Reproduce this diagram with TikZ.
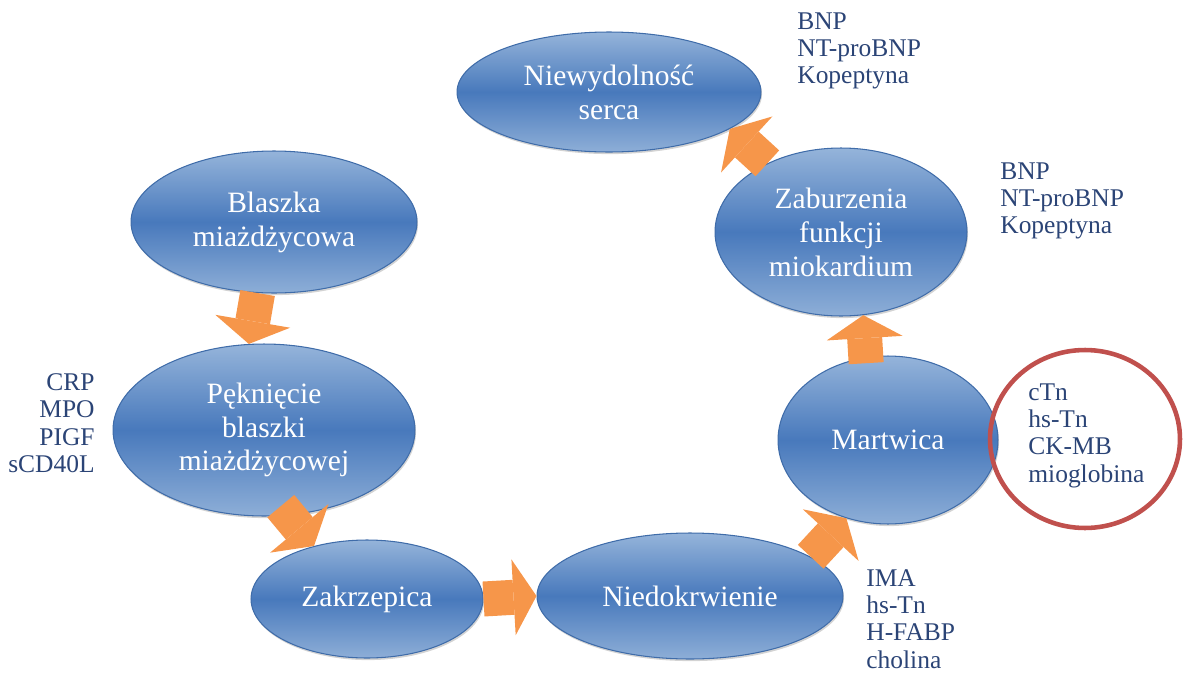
\documentclass[tikz,border=0pt]{standalone}
\usepackage{fontspec}
\setmainfont{Liberation Serif}
\usetikzlibrary{arrows.meta, shapes.geometric, shadows}
\definecolor{stageBlue}{HTML}{4879BC}
\definecolor{stageLight}{HTML}{95B4DA}
\definecolor{stageEdge}{HTML}{3F6CA9}
\definecolor{flowOrange}{HTML}{F6964A}
\definecolor{markerBlue}{HTML}{2B4476}
\definecolor{ringRed}{HTML}{C0504D}

\begin{document}
\begin{tikzpicture}[x=0.02cm, y=-0.02cm,
  stage/.style = {ellipse, draw=stageEdge, line width=0.6pt, top color=stageLight, bottom color=stageLight!90!stageBlue, middle color=stageBlue, text=white, align=center, inner sep=0pt, font=\fontsize{16.8}{19.3}\selectfont, drop shadow={opacity=0.35, shadow xshift=0.6pt, shadow yshift=-1.2pt}},
  markers/.style = {align=left, inner sep=0pt, text=markerBlue, font=\fontsize{14.5}{15.6}\selectfont},
  flow/.style = {line width=0.7cm, draw=flowOrange, -{Triangle[width=1.52cm, length=0.46cm, line width=0pt, fill=flowOrange]}},
  ring/.style = {ellipse, draw=ringRed, line width=2.6pt, inner sep=0pt}
]
\useasboundingbox (0,0) rectangle (1184,673);

% Left side of the cycle
\node[stage, minimum width=5.72cm, minimum height=2.84cm] at (274,222) (blaszka) {Blaszka\\miażdżycowa};
\node[stage, minimum width=6.04cm, minimum height=3.44cm] at (264,430) (pek) {Pęknięcie\\blaszki\\miażdżycowej};
\node[stage, minimum width=4.64cm, minimum height=2.36cm] at (367,599) (zakrz) {Zakrzepica};

% Bottom and right side
\node[stage, minimum width=6.12cm, minimum height=2.52cm] at (690,596) (nied) {Niedokrwienie};
\node[stage, minimum width=4.40cm, minimum height=3.36cm] at (888,440) (mart) {Martwica};
\node[stage, minimum width=5.04cm, minimum height=3.36cm] at (841,232) (zab) {Zaburzenia\\funkcji\\miokardium};

% Top
\node[stage, minimum width=6.08cm, minimum height=2.40cm] at (609,92) (niew) {Niewydolność\\serca};

% Marker lists
\node[markers, anchor=north west] at (797,12) (hfMarkers) {BNP\\NT-proBNP\\Kopeptyna};
\node[markers, anchor=north west] at (1000,162) (dysfMarkers) {BNP\\NT-proBNP\\Kopeptyna};
\node[markers, anchor=north east, align=right] at (95,373) (ruptMarkers) {CRP\\MPO\\PIGF\\sCD40L};
\node[markers, anchor=north west] at (1028,383) (necMarkers) {cTn\\hs-Tn\\CK-MB\\mioglobina};
\node[markers, anchor=north west] at (866,569) (ischMarkers) {IMA\\hs-Tn\\H-FABP\\cholina};

% Highlight round the necrosis markers
\node[ring, minimum width=3.8cm, minimum height=3.56cm] at (1085,439) (necRing) {};

% Arrows round the cycle
\draw[flow] (blaszka.-103) -- (pek.100);
\draw[flow, shorten <=-0.24cm] (pek.-74) -- (zakrz.135);
\draw[flow] (zakrz.east) -- (nied.west);
\draw[flow] (nied.18) -- (mart.-118);
\draw[flow, shorten <=-0.12cm] (mart.105) -- (zab.-75);
\draw[flow] (zab.137) -- (niew.-17);

\end{tikzpicture}
\end{document}
